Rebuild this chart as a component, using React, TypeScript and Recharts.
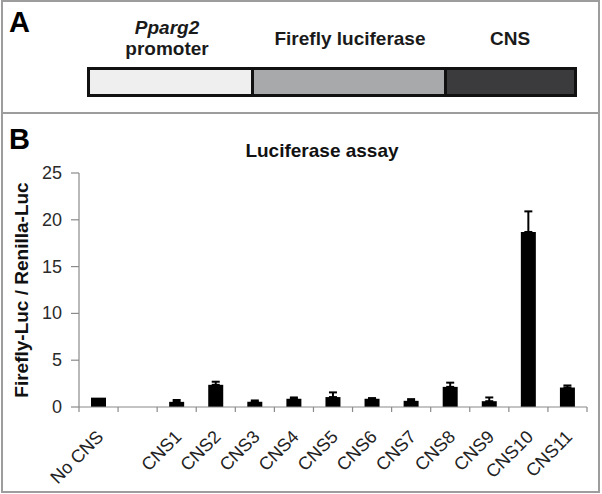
import React from 'react';
import { BarChart, Bar, XAxis, YAxis, ErrorBar } from 'recharts';

const categories = ['No CNS', '', 'CNS1', 'CNS2', 'CNS3', 'CNS4', 'CNS5', 'CNS6', 'CNS7', 'CNS8', 'CNS9', 'CNS10', 'CNS11'];
const ratios: (number | null)[] = [1.0, null, 0.55, 2.37, 0.55, 0.88, 1.06, 0.88, 0.66, 2.15, 0.62, 18.7, 2.08];
const upperErrors: (number | null)[] = [null, null, 0.2, 0.33, 0.15, 0.14, 0.5, 0.07, 0.18, 0.45, 0.4, 2.2, 0.22];
const yTicks = [0, 5, 10, 15, 20, 25];
const chartTitle = 'Luciferase assay';
const yLabel = 'Firefly-Luc / Renilla-Luc';
const constructParts = ['promoter', 'Firefly luciferase', 'CNS'];

const data = categories.map((name, i) => ({
  name,
  ratio: ratios[i],
  err: upperErrors[i] == null ? null : [0, upperErrors[i]],
}));

const FONT = '"Liberation Sans", Arial, sans-serif';
const FRAME = '#9d9d9d';
const AXIS = '#8a8a8a';

// layout constants
const CHART_W = 602;
const CHART_H = 494;
const M_TOP = 173;
const M_RIGHT = 15;
const M_BOTTOM = 7;
const X_AXIS_H = 80;
const Y_AXIS_W = 79;
const PLOT_LEFT = Y_AXIS_W;
const PLOT_BOTTOM = CHART_H - M_BOTTOM - X_AXIS_H;

const renderXTick = (props: any) => {
  const { x, payload, index } = props;
  const off = payload && typeof payload.offset === 'number' ? payload.offset : 19.5;
  const axisY = PLOT_BOTTOM;
  const ax = x + 6;
  const ay = axisY + 31;
  return (
    <g key={`xt-${index}`}>
      {index === 0 && (
        <line x1={x - off} x2={x - off} y1={axisY} y2={axisY + 5} stroke={AXIS} strokeWidth={1.2} />
      )}
      <line x1={x + off} x2={x + off} y1={axisY} y2={axisY + 5} stroke={AXIS} strokeWidth={1.2} />
      <text
        x={ax}
        y={ay}
        transform={`rotate(-45, ${ax}, ${ay})`}
        textAnchor="end"
        fontSize={18}
        fontFamily={FONT}
        fill="#222"
      >
        {payload.value}
      </text>
    </g>
  );
};

const renderYTick = (props: any) => {
  const { y, payload, index } = props;
  return (
    <g key={`yt-${index}`}>
      <line x1={PLOT_LEFT - 8} x2={PLOT_LEFT} y1={y} y2={y} stroke={AXIS} strokeWidth={1.2} />
      <text x={PLOT_LEFT - 17} y={y + 6} textAnchor="end" fontSize={18} fontFamily={FONT} fill="#2a2a2a">
        {payload.value}
      </text>
    </g>
  );
};

export default function App() {
  return (
    <div style={{ position: 'relative', width: CHART_W, height: CHART_H, background: '#fff', fontFamily: FONT, overflow: 'hidden' }}>
      <style>{'body{margin:0}'}</style>
      {/* outer frame */}
      <div style={{ position: 'absolute', left: 1, top: 0, width: 599, height: 493, boxSizing: 'border-box', border: `2px solid ${FRAME}` }} />
      <div style={{ position: 'absolute', left: 1, top: 112, width: 599, height: 2, background: FRAME }} />

      {/* Panel A */}
      <div style={{ position: 'absolute', left: 9, top: 6, fontSize: 29, fontWeight: 'bold', color: '#000' }}>A</div>
      <div style={{ position: 'absolute', left: 100, width: 134, top: 17, textAlign: 'center', fontSize: 19, fontWeight: 'bold', color: '#1a1a1a', lineHeight: '21px' }}>
        <i>Pparg2</i>
        <br />
        {constructParts[0]}
      </div>
      <div style={{ position: 'absolute', left: 250, width: 200, top: 28, textAlign: 'center', fontSize: 19, fontWeight: 'bold', color: '#1a1a1a' }}>
        {constructParts[1]}
      </div>
      <div style={{ position: 'absolute', left: 450, width: 120, top: 28, textAlign: 'center', fontSize: 19, fontWeight: 'bold', color: '#1a1a1a' }}>
        {constructParts[2]}
      </div>
      <div style={{ position: 'absolute', left: 87, top: 67, width: 490, height: 30, boxSizing: 'border-box', border: '3px solid #111', display: 'flex' }}>
        <div style={{ width: 161, background: '#eeefee', borderRight: '3px solid #111' }} />
        <div style={{ width: 190, background: '#a8a9ab', borderRight: '3px solid #111' }} />
        <div style={{ flex: 1, background: '#3b3a3c' }} />
      </div>

      {/* Panel B */}
      <div style={{ position: 'absolute', left: 9, top: 123, fontSize: 29, fontWeight: 'bold', color: '#000' }}>B</div>
      <div style={{ position: 'absolute', left: 222, width: 200, top: 140, textAlign: 'center', fontSize: 19, fontWeight: 'bold', color: '#111' }}>
        {chartTitle}
      </div>

      <div style={{ position: 'absolute', left: 0, top: 0 }}>
        <BarChart width={CHART_W} height={CHART_H} data={data} margin={{ top: M_TOP, right: M_RIGHT, bottom: M_BOTTOM, left: 0 }}>
          <XAxis
            xAxisId="cat"
            dataKey="name"
            height={X_AXIS_H}
            interval={0}
            tickLine={false}
            axisLine={{ stroke: AXIS, strokeWidth: 1.2 }}
            tick={renderXTick}
          />
          <XAxis xAxisId="top" orientation="top" height={0} tick={false} tickLine={false} axisLine={{ stroke: AXIS, strokeWidth: 1.2 }} />
          <YAxis
            yAxisId="left"
            width={Y_AXIS_W}
            domain={[0, 25]}
            ticks={yTicks}
            interval={0}
            tickLine={false}
            tick={renderYTick}
            axisLine={{ stroke: AXIS, strokeWidth: 1.2 }}
            label={{ value: yLabel, angle: -90, position: 'center', dx: -18, style: { fontSize: 19, fontWeight: 'bold', fill: '#111', fontFamily: FONT, textAnchor: 'middle' } }}
          />
          <YAxis yAxisId="right" orientation="right" width={0} domain={[0, 25]} tick={false} tickLine={false} axisLine={{ stroke: AXIS, strokeWidth: 1.2 }} />
          <Bar xAxisId="cat" yAxisId="left" dataKey="ratio" fill="#000" barSize={15} isAnimationActive={false}>
            <ErrorBar dataKey="err" width={4} stroke="#000" strokeWidth={2} direction="y" />
          </Bar>
        </BarChart>
      </div>
    </div>
  );
}
